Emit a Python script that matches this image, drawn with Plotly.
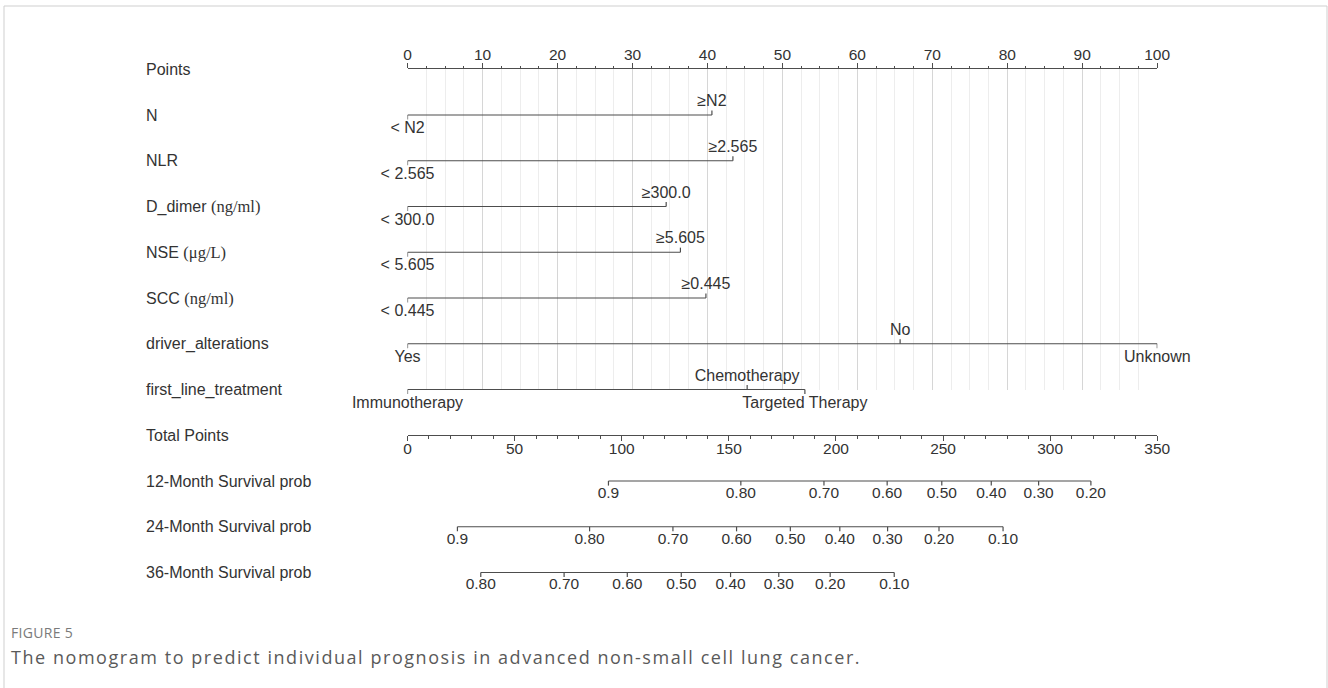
import plotly.graph_objects as go

W, H = 1328, 688

# ---------------- data ----------------
row_labels = ["Points", "N", "NLR", "D_dimer", "NSE", "SCC", "driver_alterations",
              "first_line_treatment", "Total Points", "12-Month Survival prob",
              "24-Month Survival prob", "36-Month Survival prob"]
row_units = ["", "", "", "(ng/ml)", "(μg/L)", "(ng/ml)", "", "", "", "", "", ""]

N_levels = ["< N2", "≥N2"]
N_points = [0, 40.6]
NLR_levels = ["< 2.565", "≥2.565"]
NLR_points = [0, 43.4]
D_dimer_levels = ["< 300.0", "≥300.0"]
D_dimer_points = [0, 34.5]
NSE_levels = ["< 5.605", "≥5.605"]
NSE_points = [0, 36.4]
SCC_levels = ["< 0.445", "≥0.445"]
SCC_points = [0, 39.8]
driver_levels = ["Yes", "No", "Unknown"]
driver_points = [0, 65.7, 100]
treat_levels = ["Immunotherapy", "Chemotherapy", "Targeted Therapy"]
treat_points = [0, 45.3, 53.0]

surv12_labels = ["0.9", "0.80", "0.70", "0.60", "0.50", "0.40", "0.30", "0.20"]
surv12_total = [93.8, 155.6, 194.4, 223.9, 249.4, 272.5, 294.6, 319.0]
surv24_labels = ["0.9", "0.80", "0.70", "0.60", "0.50", "0.40", "0.30", "0.20", "0.10"]
surv24_total = [23.3, 85.0, 123.9, 153.6, 178.7, 201.8, 224.1, 248.1, 278.0]
surv36_labels = ["0.80", "0.70", "0.60", "0.50", "0.40", "0.30", "0.20", "0.10"]
surv36_total = [34.2, 73.1, 102.6, 127.8, 150.8, 173.3, 197.3, 227.2]

points_range = [0, 100]
total_range = [0, 350]

caption_label = "FIGURE 5"
caption_text = "The nomogram to predict individual prognosis in advanced non-small cell lung cancer."

# ---------------- style ----------------
FONT = "Liberation Sans, Arial, sans-serif"
SERIF = "Liberation Serif, Times New Roman, serif"
TXT = "#333333"
LINE = "#4d4d4d"
ROW0_PX = 69.25
ROW_PX = 45.75
X0_PX, X1_PX = 407.5, 1157.3
TICK = 4.6 / ROW_PX        # tick length in row units
LAB_UP = 13.0 / ROW_PX
LAB_DN = 14.0 / ROW_PX
LEVEL_FS = 16

variables = [
    (N_levels, N_points), (NLR_levels, NLR_points), (D_dimer_levels, D_dimer_points),
    (NSE_levels, NSE_points), (SCC_levels, SCC_points), (driver_levels, driver_points),
    (treat_levels, treat_points),
]
survivals = [(surv12_labels, surv12_total), (surv24_labels, surv24_total),
             (surv36_labels, surv36_total)]

fig = go.Figure()

# variable scales (points coordinates)
for i, (levels, pts) in enumerate(variables):
    row = i + 1
    fig.add_trace(go.Scatter(
        x=[min(pts), max(pts)], y=[row, row], mode="lines",
        line=dict(color=LINE, width=1.2), xaxis="x2", yaxis="y2",
        hoverinfo="skip", showlegend=False))
    below = [k % 2 == 0 for k in range(len(levels))]
    fig.add_trace(go.Scatter(
        x=pts, y=[row] * len(pts), mode="markers",
        marker=dict(size=1, color="rgba(0,0,0,0)"),
        error_y=dict(type="data", symmetric=False,
                     array=[TICK if b else 0 for b in below],
                     arrayminus=[0 if b else TICK for b in below],
                     width=0, thickness=1.2, color=LINE),
        xaxis="x2", yaxis="y2", hoverinfo="skip", showlegend=False))
    fig.add_trace(go.Scatter(
        x=pts, y=[row + (LAB_DN if b else -LAB_UP) for b in below],
        mode="text", text=levels, textposition="middle center",
        textfont=dict(family=FONT, size=LEVEL_FS, color=TXT), cliponaxis=False,
        xaxis="x2", yaxis="y2", hoverinfo="skip", showlegend=False))

# survival probability scales (total points coordinates)
for j, (labels, tot) in enumerate(survivals):
    row = 9 + j
    fig.add_trace(go.Scatter(
        x=[min(tot), max(tot)], y=[row, row], mode="lines",
        line=dict(color=LINE, width=1.2), xaxis="x3", yaxis="y2",
        hoverinfo="skip", showlegend=False))
    fig.add_trace(go.Scatter(
        x=tot, y=[row] * len(tot), mode="markers",
        marker=dict(size=1, color="rgba(0,0,0,0)"),
        error_y=dict(type="data", symmetric=False, array=[TICK] * len(tot),
                     arrayminus=[0] * len(tot), width=0, thickness=1.2, color=LINE),
        xaxis="x3", yaxis="y2", hoverinfo="skip", showlegend=False))
    fig.add_trace(go.Scatter(
        x=tot, y=[row + 13.0 / ROW_PX] * len(tot), mode="text", text=labels,
        textposition="middle center",
        textfont=dict(family=FONT, size=15.5, color=TXT), cliponaxis=False,
        xaxis="x3", yaxis="y2", hoverinfo="skip", showlegend=False))

# invisible trace to hold the Points axis subplot (grid)
fig.add_trace(go.Scatter(x=points_range, y=[0, 1], mode="markers",
                         marker=dict(size=1, color="rgba(0,0,0,0)"),
                         xaxis="x", yaxis="y", hoverinfo="skip", showlegend=False))

xdom = [X0_PX / W, X1_PX / W]
grid_top = ROW0_PX
grid_bot = ROW0_PX + 7 * ROW_PX
y2_range = [(H - ROW0_PX) / ROW_PX, -ROW0_PX / ROW_PX]

fig.update_layout(
    width=W, height=H, autosize=False,
    margin=dict(l=0, r=0, t=0, b=0, pad=0, autoexpand=False),
    paper_bgcolor="white", plot_bgcolor="rgba(0,0,0,0)",
    xaxis=dict(domain=xdom, range=[-0.02, 100.02], side="top", anchor="y",
               automargin=False, ticklabelstandoff=-3,
               showline=True, linecolor=LINE, linewidth=1.2,
               ticks="outside", ticklen=5, tickwidth=1.2, tickcolor=LINE,
               tickmode="linear", tick0=0, dtick=10,
               tickfont=dict(family=FONT, size=15.5, color=TXT),
               showgrid=True, gridcolor="#d6d6d6", gridwidth=1, zeroline=False,
               minor=dict(dtick=2.5, tick0=0, ticks="outside", ticklen=2.5,
                          tickcolor=LINE, tickwidth=1, showgrid=True,
                          gridcolor="#ededed", gridwidth=1),
               fixedrange=True),
    yaxis=dict(domain=[1 - grid_bot / H, 1 - grid_top / H], range=[0, 1],
               visible=False, automargin=False, fixedrange=True),
    xaxis2=dict(domain=xdom, range=points_range, anchor="y2", visible=False,
                automargin=False, fixedrange=True),
    yaxis2=dict(domain=[0, 1], range=y2_range, visible=False, automargin=False,
                fixedrange=True),
    xaxis3=dict(domain=xdom, range=total_range, anchor="free",
                position=1 - (ROW0_PX + 8 * ROW_PX) / H, side="bottom",
                automargin=False, ticklabelstandoff=-6,
                showline=True, linecolor=LINE, linewidth=1.2,
                ticks="outside", ticklen=5, tickwidth=1.2, tickcolor=LINE,
                tickmode="linear", tick0=0, dtick=50,
                tickfont=dict(family=FONT, size=15.5, color=TXT),
                showgrid=False, zeroline=False,
                minor=dict(dtick=10, tick0=0, ticks="outside", ticklen=2.5,
                           tickcolor=LINE, tickwidth=1),
                fixedrange=True),
)

# row labels
for r, (lab, unit) in enumerate(zip(row_labels, row_units)):
    text = lab
    if unit:
        text = lab + f' <span style="font-family:{SERIF}; font-size:16.5px">{unit}</span>'
    fig.add_annotation(x=144 / W, xref="paper", y=r, yref="y2", text=text,
                       showarrow=False, xanchor="left", yanchor="middle",
                       font=dict(family=FONT, size=16, color=TXT))

# frame
frame = "#cfcfcf"
fig.add_shape(type="line", xref="paper", yref="paper", x0=4 / W, x1=1327 / W,
              y0=1 - 6 / H, y1=1 - 6 / H, line=dict(color=frame, width=1))
fig.add_shape(type="line", xref="paper", yref="paper", x0=4 / W, x1=4 / W,
              y0=0, y1=1 - 6 / H, line=dict(color=frame, width=1))
fig.add_shape(type="line", xref="paper", yref="paper", x0=1327 / W, x1=1327 / W,
              y0=0, y1=1 - 6 / H, line=dict(color=frame, width=1))

# caption
fig.add_annotation(x=9 / W, xref="paper", y=1 - 632 / H, yref="paper",
                   text=f'<span style="letter-spacing:0.3px">{caption_label}</span>',
                   showarrow=False, xanchor="left", yanchor="middle",
                   font=dict(family="Open Sans, sans-serif", size=14, color="#7a7a7a"))
fig.add_annotation(x=9 / W, xref="paper", y=1 - 657 / H, yref="paper",
                   text=f'<span style="letter-spacing:1.55px">{caption_text}</span>',
                   showarrow=False, xanchor="left", yanchor="middle",
                   font=dict(family="Open Sans, sans-serif", size=18, color="#5a5a5a"))

fig.write_html(
    "out.html",
    config={"responsive": False, "displayModeBar": False},
    default_width=f"{W}px", default_height=f"{H}px",
    post_script=("document.body.style.margin='0px';"
                 "document.body.style.overflow='hidden';"),
)
